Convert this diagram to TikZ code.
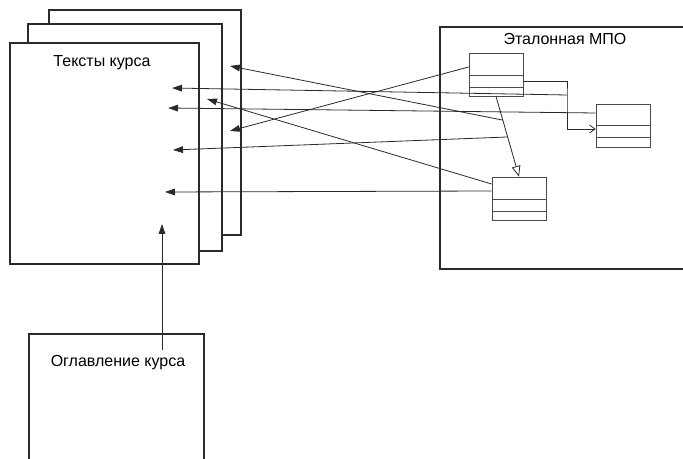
\documentclass[tikz,border=0pt]{standalone}
\usepackage{fontspec}
\setmainfont{Liberation Sans}
\usetikzlibrary{fit,arrows.meta,calc}
\definecolor{ink}{HTML}{2A2A2A}
\definecolor{thin}{HTML}{4A4A4A}
\tikzset{
  page/.style={draw=ink,line width=1.1pt,fill=white,inner sep=0pt},
  cls/.style={draw=thin,line width=0.6pt,inner sep=0pt},
  clsline/.style={draw=thin,line width=0.6pt},
  lbl/.style={font=\fontsize{12pt}{14pt}\selectfont,text=black,inner sep=0pt},
  conn/.style={draw=ink,line width=0.6pt,-{Triangle[length=7.5pt,width=5pt]}},
  assoc/.style={draw=ink,line width=0.6pt,-{Straight Barb[length=4pt,width=6pt]}},
  gen/.style={draw=ink,line width=0.6pt,-{Triangle[open,length=8pt,width=6.5pt,fill=white]}},
  plain/.style={draw=ink,line width=0.6pt}
}
\begin{document}
\begin{tikzpicture}[x=0.75pt,y=-0.75pt]
\useasboundingbox (0,0) rectangle (683,459);
% stacked pages
\node[page,fit={(49,10) (241,235)}] (P3) {};
\node[page,fit={(28,24) (222,251)}] (P2) {};
\node[page,fit={(10,43) (199,264)}] (P1) {};
\node[lbl] (T1) at (102,63) {Тексты курса};
% right box
\node[page,fit={(440,27) (690,269)}] (M) {};
\node[lbl] (T2) at (565,39) {Эталонная МПО};
% bottom box
\node[page,fit={(29,334) (204,470)}] (O) {};
\node[lbl] (T3) at (118,363) {Оглавление курса};
% class boxes
\node[cls,fit={(469,53) (523,96)}] (A) {};
\draw[clsline] (A.west |- 0,75) -- (A.east |- 0,75);
\draw[clsline] (A.west |- 0,87) -- (A.east |- 0,87);
\node[cls,fit={(596,104) (650,147)}] (B) {};
\draw[clsline] (B.west |- 0,125) -- (B.east |- 0,125);
\draw[clsline] (B.west |- 0,137) -- (B.east |- 0,137);
\node[cls,fit={(492,177) (546,220)}] (C) {};
\draw[clsline] (C.west |- 0,199) -- (C.east |- 0,199);
\draw[clsline] (C.west |- 0,211) -- (C.east |- 0,211);
% arrow tip points
\coordinate (t1) at (230,66);
\coordinate (t2) at (172,88);
\coordinate (t3) at (207,99);
\coordinate (t4) at (168,108);
\coordinate (t5) at (230,131);
\coordinate (t6) at (173,150);
\coordinate (t7) at (165,192);
\coordinate (t8) at (162,224);
\coordinate (s) at (162,350);
\coordinate (k) at (567,95);
% generalization A -> C
\draw[gen] (A.south) -- coordinate[pos=0.296] (p1) coordinate[pos=0.506] (p2) (C.north);
% association A -> B
\draw[assoc] (A.east |- 0,81) -| (k) |- (B.west |- 0,129);
% connectors to texts
\draw[conn] (k) -- (t2);
\draw[conn] (B.west |- 0,113) -- (t4);
\draw[conn] (A.west |- 0,67) -- (t5);
\draw[conn] (p1) -- (t1);
\draw[conn] (p2) -- (t6);
\draw[conn] (C.west |- 0,184) -- (t3);
\draw[conn] (C.west |- 0,191) -- (t7);
\draw[conn] (s) -- (t8);
\end{tikzpicture}
\end{document}
